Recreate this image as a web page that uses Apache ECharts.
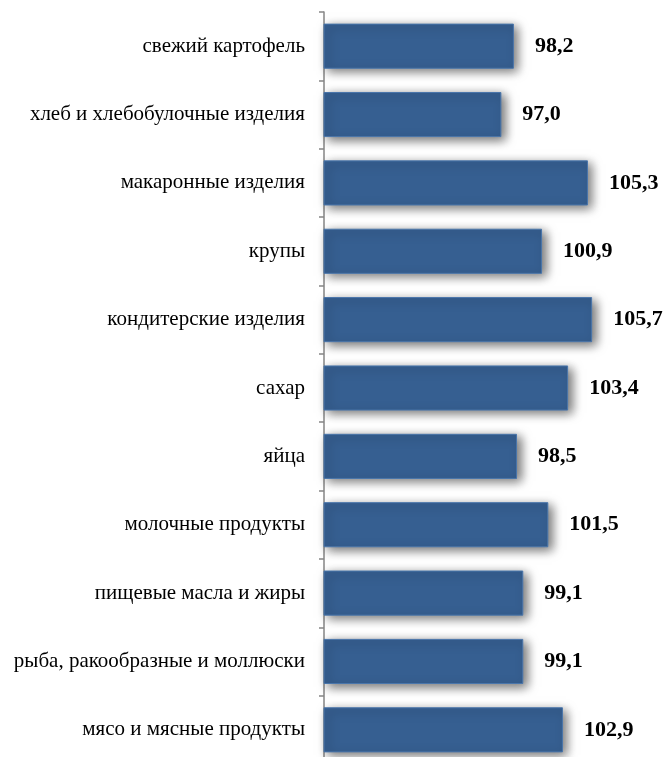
<!DOCTYPE html>
<html><head><meta charset="utf-8">
<script src="https://cdn.jsdelivr.net/npm/echarts@6/dist/echarts.min.js"></script>
<style>html,body{margin:0;padding:0;background:#fff}#c{width:664px;height:757px}</style>
</head><body><div id="c"></div>
<script>
const categories = ["свежий картофель","хлеб и хлебобулочные изделия","макаронные изделия","крупы","кондитерские изделия","сахар","яйца","молочные продукты","пищевые масла и жиры","рыба, ракообразные и моллюски","мясо и мясные продукты"];
const values = [98.2,97.0,105.3,100.9,105.7,103.4,98.5,101.5,99.1,99.1,102.9];
const chart = echarts.init(document.getElementById('c'));
chart.setOption({
  animation:false,
  grid:{left:324,top:12,width:313,height:752,outerBoundsMode:'none',containLabel:false},
  xAxis:{type:'value',min:80,max:110,show:false},
  yAxis:{type:'category',data:categories,inverse:true,
    axisLine:{lineStyle:{color:'#868686',width:1.5}},
    axisTick:{show:true,length:5,lineStyle:{color:'#868686',width:1.5}},
    axisLabel:{margin:19,color:'#000',fontFamily:'Liberation Serif',fontSize:21}},
  series:[{type:'bar',data:values,barCategoryGap:'34%',
    itemStyle:{color:'#365F91',borderColor:'#4a76ab',borderWidth:1,shadowBlur:10,shadowOffsetX:4,shadowOffsetY:3,shadowColor:'rgba(0,0,0,0.55)'},
    label:{show:true,position:'right',distance:21,color:'#000',fontFamily:'Liberation Serif',fontWeight:'bold',fontSize:22,
      formatter:p=>p.value.toFixed(1).replace('.',',')}}]
});
</script></body></html>
